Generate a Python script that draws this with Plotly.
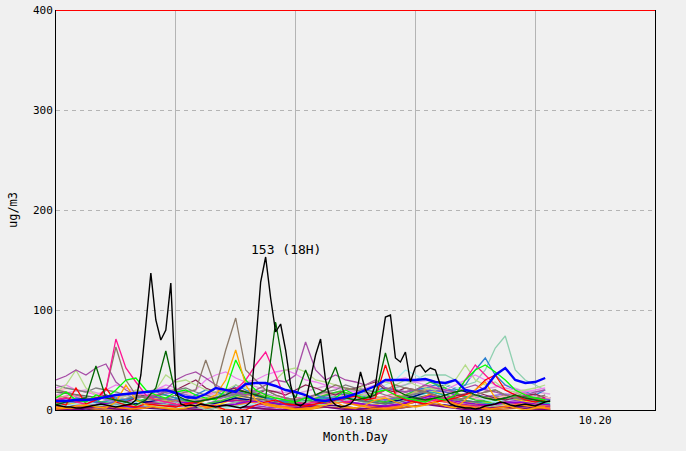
import plotly.graph_objects as go

# hours counted from 10.16 00:00
day_labels = ["10.16", "10.17", "10.18", "10.19", "10.20"]
label_hours = [12, 36, 60, 84, 108]
day_bounds = [24, 48, 72, 96]

# hourly readings of the station with the highest peak
black_vals = [
    5, 4, 3, 3, 2, 2, 3, 4, 5, 6,
    5, 4, 3, 4, 5, 6, 10, 35, 85, 137,
    90, 70, 80, 127, 20, 6, 4, 5, 4, 6,
    5, 4, 3, 4, 5, 4, 3, 2, 4, 8,
    65, 128, 153, 112, 78, 86, 60, 25, 6, 4,
    8, 30, 55, 71, 30, 10, 5, 3, 4, 6,
    12, 38, 20, 12, 25, 60, 93, 95, 52, 48,
    58, 28, 43, 45, 38, 42, 40, 25, 12, 6,
    4, 3, 2, 2, 1, 2, 4, 5, 6, 8,
    7, 5, 4, 5, 6, 5, 4, 6, 8, 9,
]

# 2-hourly readings
blue_vals = [9, 9, 10, 10, 11, 13, 15, 16, 17, 18,
             19, 20, 17, 13, 12, 16, 22, 20, 18, 26,
             27, 27, 24, 20, 18, 15, 10, 9, 11, 13,
             16, 20, 24, 30, 30, 30, 30, 31, 28, 27,
             30, 20, 18, 22, 35, 42, 30, 27, 28, 32]
pink_vals = [10, 12, 8, 6, 10, 20, 71, 42, 28, 15,
             10, 8, 6, 5, 8, 10, 12, 15, 20, 30,
             45, 58, 35, 10, 8, 6, 8, 10, 12, 8,
             10, 12, 15, 20, 15, 12, 10, 8, 10, 12,
             15, 30, 45, 35, 25, 20, 15, 12, 10, 12]
purple_vals = [30, 34, 40, 35, 42, 46, 28, 20, 15, 12,
               14, 20, 30, 35, 38, 32, 25, 20, 18, 15,
               20, 25, 30, 28, 35, 68, 40, 30, 35, 30,
               28, 25, 30, 22, 20, 18, 20, 25, 22, 20,
               18, 22, 25, 20, 18, 15, 12, 15, 18, 20]
tan_vals = [20, 18, 15, 12, 10, 20, 63, 30, 15, 12,
            10, 12, 15, 18, 20, 50, 22, 60, 92, 40,
            30, 20, 15, 12, 10, 12, 15, 20, 25, 22,
            20, 18, 15, 20, 25, 22, 20, 18, 15, 12,
            10, 12, 15, 18, 20, 15, 12, 10, 12, 15]
dkgreen_vals = [5, 8, 10, 12, 44, 12, 10, 8, 5, 10,
                22, 59, 15, 10, 8, 10, 12, 15, 20, 18,
                15, 12, 88, 30, 12, 40, 15, 20, 43, 12,
                10, 12, 15, 57, 20, 15, 12, 10, 12, 15,
                18, 20, 15, 12, 10, 12, 15, 12, 10, 8]
red_vals = [8, 5, 22, 6, 10, 22, 8, 5, 3, 6,
            5, 4, 3, 6, 8, 5, 4, 0, 0, 0,
            5, 8, 10, 6, 5, 4, 6, 8, 10, 12,
            14, 10, 12, 45, 15, 10, 8, 6, 8, 10,
            12, 15, 20, 30, 35, 20, 15, 10, 8, 10]
ltgreen_vals = [18, 25, 40, 22, 15, 12, 10, 14, 20, 18,
                20, 35, 28, 30, 25, 20, 18, 20, 25, 22,
                20, 25, 30, 40, 42, 38, 30, 28, 25, 22,
                20, 25, 30, 28, 25, 30, 25, 22, 20, 25,
                30, 45, 30, 25, 28, 20, 18, 20, 22, 25]
aqua_vals = [5, 8, 10, 6, 4, 5, 6, 8, 5, 4,
             5, 6, 8, 5, 4, 0, 2, 3, 4, 5,
             6, 8, 10, 12, 10, 8, 6, 5, 8, 10,
             12, 15, 18, 20, 22, 25, 30, 35, 35, 35,
             30, 25, 28, 40, 62, 74, 40, 30, 25, 20]
steel_vals = [10, 8, 12, 10, 8, 15, 12, 10, 12, 15,
              18, 15, 12, 10, 15, 20, 18, 15, 25, 20,
              15, 12, 10, 8, 10, 12, 15, 12, 10, 12,
              15, 18, 20, 22, 20, 18, 20, 22, 25, 20,
              20, 25, 40, 52, 35, 25, 20, 18, 15, 20]
orange_vals = [3, 2, 4, 5, 3, 2, 8, 25, 10, 5,
               3, 2, 1, 2, 5, 10, 15, 30, 60, 25,
               10, 5, 3, 2, 0, 0, 2, 5, 8, 3,
               2, 5, 10, 12, 8, 5, 3, 5, 8, 4,
               2, 10, 20, 28, 12, 5, 2, 0, 2, 3]
lime_vals = [12, 18, 10, 8, 15, 12, 20, 30, 32, 20,
             15, 12, 18, 20, 15, 12, 10, 20, 50, 30,
             20, 15, 12, 10, 8, 12, 10, 8, 12, 20,
             15, 12, 18, 20, 15, 12, 10, 8, 12, 10,
             15, 30, 40, 45, 38, 30, 20, 15, 12, 10]
gray_vals = [25, 22, 20, 18, 22, 20, 18, 15, 12, 14,
             15, 18, 20, 22, 18, 15, 12, 14, 16, 15,
             18, 20, 15, 12, 10, 12, 15, 18, 20, 25,
             22, 20, 18, 15, 12, 14, 16, 18, 15, 12,
             10, 12, 15, 18, 20, 15, 12, 10, 12, 15]
cyan_vals = [5, 4, 6, 8, 6, 5, 4, 6, 8, 5,
             4, 3, 2, 3, 5, 6, 4, 2, 3, 5,
             6, 8, 10, 12, 15, 12, 10, 8, 10, 12,
             15, 18, 20, 25, 30, 40, 35, 30, 28, 25,
             22, 20, 15, 10, 8, 10, 12, 15, 18, 20]
maroon_vals = [10, 12, 8, 10, 12, 15, 10, 8, 12, 15,
               14, 18, 20, 25, 30, 22, 18, 20, 22, 18,
               15, 20, 18, 15, 20, 25, 22, 18, 15, 20,
               22, 25, 28, 20, 18, 22, 20, 18, 15, 12,
               14, 16, 18, 15, 12, 10, 12, 14, 16, 12]
violet_vals = [22, 25, 20, 18, 15, 20, 25, 22, 18, 15,
               20, 25, 22, 18, 20, 30, 35, 38, 32, 28,
               30, 35, 38, 40, 36, 30, 28, 25, 22, 20,
               18, 22, 25, 28, 30, 32, 28, 25, 22, 20,
               25, 30, 35, 30, 25, 22, 20, 18, 20, 22]

# 3-hourly readings of the quieter stations
low_series = {
    "#9932cc": [5, 3, 2, 4, 6, 8, 5, 3, 2, 4, 6, 10, 8, 5, 3, 2, 4, 6, 8, 10, 7, 5, 3, 6, 9, 12, 8, 5, 4, 6, 8, 10, 6, 4],
    "#ff69b4": [12, 15, 10, 8, 12, 18, 14, 10, 8, 12, 15, 20, 16, 12, 10, 8, 12, 14, 18, 15, 12, 10, 14, 18, 20, 25, 18, 14, 12, 10, 15, 18, 14, 12],
    "#4b0082": [2, 1, 0, 1, 2, 3, 2, 1, 0, 2, 4, 5, 3, 2, 1, 0, 2, 3, 5, 4, 2, 1, 0, 2, 4, 6, 5, 3, 2, 1, 3, 4, 2, 1],
    "#dda0dd": [15, 18, 20, 16, 12, 15, 18, 22, 20, 16, 14, 18, 22, 25, 20, 18, 16, 20, 24, 22, 18, 16, 20, 24, 28, 30, 25, 20, 18, 22, 25, 20, 18, 16],
    "#8fbc8f": [8, 6, 4, 2, 0, 3, 6, 8, 5, 2, 0, 4, 8, 10, 6, 3, 1, 4, 8, 12, 10, 6, 3, 5, 10, 15, 12, 8, 5, 3, 6, 8, 5, 3],
    "#ffd700": [4, 6, 8, 5, 3, 6, 10, 12, 8, 5, 3, 6, 12, 15, 10, 6, 4, 8, 12, 10, 6, 4, 8, 14, 18, 20, 15, 10, 6, 8, 12, 10, 6, 4],
    "#20b2aa": [10, 8, 6, 8, 10, 12, 8, 6, 5, 8, 10, 14, 12, 8, 6, 5, 8, 10, 12, 14, 10, 8, 6, 10, 14, 18, 15, 10, 8, 6, 10, 12, 8, 6],
    "#696969": [18, 16, 14, 12, 10, 12, 15, 12, 10, 8, 10, 12, 15, 12, 10, 8, 6, 8, 10, 12, 10, 8, 6, 8, 12, 15, 12, 10, 8, 10, 12, 14, 12, 10],
    "#9370db": [6, 8, 10, 12, 8, 6, 10, 15, 18, 14, 10, 12, 16, 20, 16, 12, 10, 12, 16, 18, 15, 12, 10, 14, 18, 22, 18, 15, 12, 14, 16, 14, 12, 10],
    "#c71585": [3, 5, 4, 2, 3, 6, 8, 6, 4, 3, 5, 8, 10, 8, 5, 3, 2, 4, 6, 8, 6, 4, 3, 5, 8, 12, 10, 6, 4, 5, 8, 6, 4, 3],
    "#000080": [5, 4, 3, 4, 5, 6, 8, 10, 8, 6, 5, 8, 12, 10, 8, 6, 5, 6, 8, 10, 12, 10, 8, 10, 14, 20, 25, 20, 15, 12, 14, 16, 14, 12],
    "#ff6347": [2, 3, 5, 4, 2, 1, 3, 5, 8, 6, 3, 2, 4, 8, 6, 4, 2, 3, 5, 8, 6, 4, 2, 4, 8, 10, 8, 5, 3, 2, 4, 6, 4, 2],
    "#6a5acd": [10, 12, 8, 6, 8, 10, 14, 12, 10, 8, 10, 14, 18, 15, 12, 10, 8, 10, 14, 16, 14, 12, 10, 12, 16, 20, 18, 14, 12, 10, 12, 14, 12, 10],
    "#bdb76b": [14, 12, 10, 12, 14, 16, 12, 10, 8, 10, 12, 16, 20, 18, 14, 12, 10, 12, 16, 18, 16, 14, 12, 14, 18, 22, 20, 16, 14, 12, 14, 16, 14, 12],
    "#ffb6c1": [20, 22, 18, 15, 12, 10, 14, 18, 20, 16, 12, 10, 14, 18, 15, 12, 10, 12, 16, 14, 12, 10, 12, 16, 20, 24, 20, 16, 12, 10, 14, 16, 14, 12],
    "#d2691e": [0, 1, 2, 0, 0, 1, 3, 2, 0, 0, 1, 2, 4, 3, 1, 0, 0, 1, 3, 2, 1, 0, 0, 2, 4, 6, 4, 2, 1, 0, 1, 2, 1, 0],
    "#800080": [1, 0, 2, 3, 1, 0, 2, 4, 2, 1, 0, 3, 5, 3, 1, 0, 2, 4, 3, 1, 0, 2, 4, 6, 8, 5, 3, 1, 0, 2, 3, 2, 1, 0],
    "#32cd32": [6, 9, 12, 8, 5, 7, 11, 16, 12, 8, 6, 9, 14, 18, 13, 9, 7, 10, 15, 19, 14, 10, 8, 12, 20, 28, 22, 15, 10, 8, 12, 15, 11, 8],
    "#ff8c00": [1, 2, 4, 6, 3, 1, 2, 5, 9, 6, 3, 1, 4, 10, 7, 3, 1, 2, 6, 9, 5, 2, 1, 3, 9, 16, 10, 4, 2, 1, 3, 5, 3, 1],
    "#9400d3": [4, 3, 5, 7, 5, 3, 4, 6, 8, 7, 5, 4, 6, 9, 8, 6, 4, 5, 7, 9, 7, 5, 4, 6, 10, 14, 11, 8, 6, 5, 7, 8, 6, 5],
}

mid_series = [
    ("#8fd0b0", aqua_vals), ("#2a7fd0", steel_vals), ("#a8eeee", cyan_vals),
    ("#8b2252", maroon_vals), ("#ee82ee", violet_vals), ("#808080", gray_vals),
    ("#b5dc8a", ltgreen_vals), ("#a64ca6", purple_vals), ("#8c7a68", tan_vals),
    ("#ff1493", pink_vals), ("#ff0000", red_vals), ("#00ff00", lime_vals),
    ("#ffa500", orange_vals), ("#006400", dkgreen_vals),
]

fig = go.Figure()

for color, vals in low_series.items():
    fig.add_trace(go.Scatter(x=[i * 3 for i in range(len(vals))], y=vals, mode="lines",
                             line=dict(color=color, width=1.4)))

for color, vals in mid_series:
    fig.add_trace(go.Scatter(x=[i * 2 for i in range(len(vals))], y=vals, mode="lines",
                             line=dict(color=color, width=1.3)))

fig.add_trace(go.Scatter(x=[i * 2 for i in range(len(blue_vals))], y=blue_vals, mode="lines",
                         line=dict(color="#0000ff", width=2.4)))
fig.add_trace(go.Scatter(x=list(range(len(black_vals))), y=black_vals, mode="lines",
                         line=dict(color="#000000", width=1.4)))

peak = max(black_vals)
peak_h = black_vals.index(peak)
fig.add_annotation(x=peak_h, y=peak, text=f"{peak} ({peak_h % 24}H)", showarrow=False,
                   xanchor="left", yanchor="bottom", xshift=-17, yshift=-2,
                   font=dict(size=13))

# red limit line along the top
fig.add_shape(type="line", xref="paper", yref="y", x0=0, x1=1, y0=400, y1=400,
              line=dict(color="#ff0000", width=2), layer="above")

fig.update_layout(
    width=686, height=451,
    margin=dict(l=56, r=31, t=10, b=41),
    paper_bgcolor="#f0f0f0", plot_bgcolor="#f0f0f0",
    showlegend=False,
    font=dict(family="DejaVu Sans Mono", size=11, color="black"),
    xaxis=dict(
        range=[0, 120], tickmode="array", tickvals=label_hours, ticktext=day_labels,
        showgrid=False, zeroline=False, ticks="", automargin=False,
        showline=True, linecolor="black", linewidth=1,
        minor=dict(tickmode="array", tickvals=day_bounds, showgrid=True,
                   gridcolor="#b4b4b4", gridwidth=1, ticks=""),
        title=dict(text="Month.Day", standoff=6, font=dict(size=12)),
    ),
    yaxis=dict(
        range=[0, 400], dtick=100, showgrid=True, gridcolor="#b4b4b4", griddash="4px,4px",
        gridwidth=1, zeroline=False, ticks="", automargin=False,
        showline=True, linecolor="black", linewidth=1, mirror=True,
        title=dict(text="ug/m3", standoff=12, font=dict(size=12)),
    ),
)

fig.write_html("out.html", config={"displayModeBar": False},
               post_script="document.body.style.margin='0px';")
